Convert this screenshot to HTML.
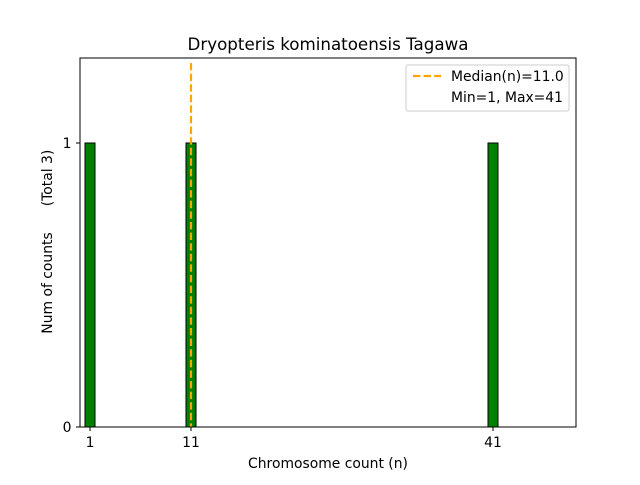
<!DOCTYPE html>
<html><head><style>body{margin:0;background:#fff}</style></head><body>
<svg width="640" height="480" xmlns="http://www.w3.org/2000/svg" font-family="'DejaVu Sans', sans-serif">
<rect width="640" height="480" fill="#fff"/>
<text x="328" y="50" font-size="16.7" text-anchor="middle" fill="#000">Dryopteris kominatoensis Tagawa</text>
<line x1="80" y1="427" x2="528" y2="427" stroke="#000" stroke-width="1"/>
<rect x="85" y="143" width="10" height="284" fill="#008000" stroke="#000" stroke-width="1"/>
<rect x="186" y="143" width="10" height="284" fill="#008000" stroke="#000" stroke-width="1"/>
<rect x="488" y="143" width="10" height="284" fill="#008000" stroke="#000" stroke-width="1"/>
<line x1="191" y1="63" x2="191" y2="427" stroke="#ffa500" stroke-width="2.2" stroke-dasharray="7.4,3.2"/>
<rect x="80" y="58" width="496" height="369" fill="none" stroke="#000" stroke-width="1"/>
<g stroke="#000"><line x1="90" y1="427" x2="90" y2="431"/><line x1="191" y1="427" x2="191" y2="431"/><line x1="493" y1="427" x2="493" y2="431"/>
<line x1="76" y1="427" x2="80" y2="427"/><line x1="76" y1="143" x2="80" y2="143"/></g>
<g font-size="13.9" fill="#000" text-anchor="middle">
<text x="90" y="447">1</text><text x="191" y="447">11</text><text x="493" y="447">41</text>
<text x="328" y="468">Chromosome count (n)</text>
<text x="67" y="432">0</text><text x="67" y="148">1</text>
<text transform="translate(52,283) rotate(-90)">Num of counts</text>
<text transform="translate(52,178) rotate(-90)">(Total 3)</text>
</g>
<rect x="406" y="65" width="163" height="46" fill="#fff" stroke="#ccc" rx="2"/>
<line x1="413" y1="76" x2="441" y2="76" stroke="#ffa500" stroke-width="2.2" stroke-dasharray="7.4,3.2"/>
<text x="451" y="81" font-size="13.9">Median(n)=11.0</text>
<text x="451" y="102" font-size="13.9">Min=1, Max=41</text>
</svg>
</body></html>
